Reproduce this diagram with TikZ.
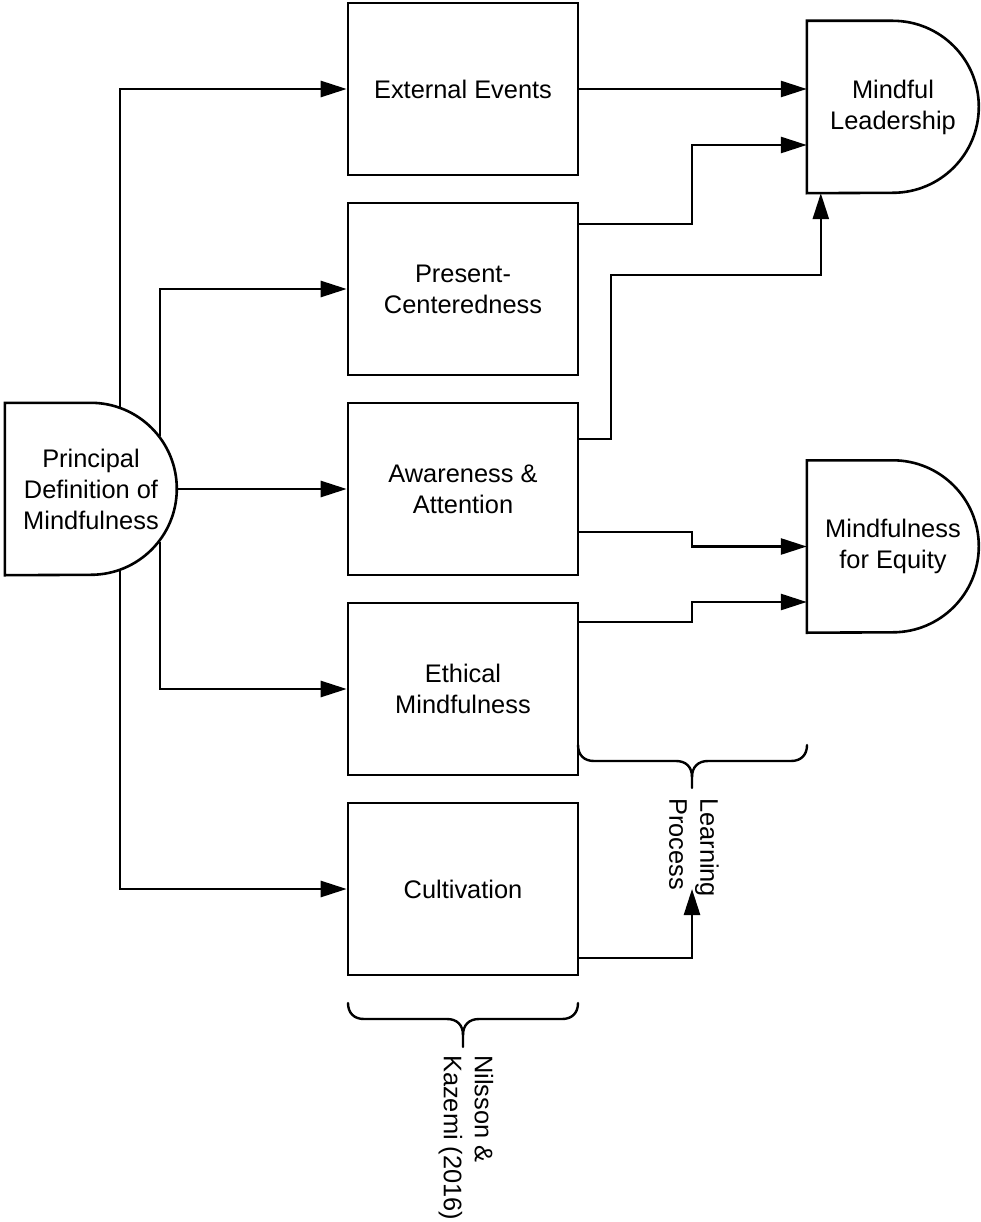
\documentclass[tikz,border=0pt]{standalone}
\usepackage{fontspec}
\setmainfont{Liberation Sans}
\usetikzlibrary{arrows.meta}
\begin{document}
\begin{tikzpicture}[x=1pt,y=-1pt,
  lbl/.style={font=\fontsize{25.4}{31}\selectfont, align=center},
  box/.style={lbl, draw, line width=2.6pt, minimum width=230pt, minimum height=172pt, inner sep=0pt},
  dnode/.style={lbl, minimum width=172pt, minimum height=172pt, inner sep=0pt},
  conn/.style={line width=2.6pt},
  arr/.style={conn, -{Triangle[length=26pt,width=16pt]}},
  brace/.style={line width=2.4pt, line cap=round}
]
\useasboundingbox (0,0) rectangle (980,1222);

% boxes
\node[box] (ee) at (463,89) {External Events};
\node[box] (pc) at (463,289) {Present-\\Centeredness};
\node[box] (aa) at (463,489) {Awareness \&\\Attention};
\node[box] (em) at (463,689) {Ethical\\Mindfulness};
\node[box] (cu) at (463,889) {Cultivation};

% D-shaped nodes
\node[dnode] (pdm) at (91,489) {Principal\\Definition of\\Mindfulness};
\draw[conn] (pdm.north west) -- ++(86,0) arc[start angle=90,end angle=-90,radius=86pt] -- (pdm.south west) -- cycle;
\node[dnode] (ml) at (893,107) {Mindful\\Leadership};
\draw[conn] (ml.north west) -- ++(86,0) arc[start angle=90,end angle=-90,radius=86pt] -- (ml.south west) -- cycle;
\node[dnode] (mfe) at (893,546.5) {Mindfulness\\for Equity};
\draw[conn] (mfe.north west) -- ++(86,0) arc[start angle=90,end angle=-90,radius=86pt] -- (mfe.south west) -- cycle;

% start points on the arc of pdm
\coordinate (s1) at (120,408);
\coordinate (s2) at (160,436);
\coordinate (s4) at (160,542);
\coordinate (s5) at (120,570);

% connectors from principal definition
\draw[arr] (s1) |- (ee.west);
\draw[arr] (s2) |- (pc.west);
\draw[arr] (pdm.east) -- (aa.west);
\draw[arr] (s4) |- (em.west);
\draw[arr] (s5) |- (cu.west);

% to Mindful Leadership
\draw[arr] (ee.east) -- (ee.east -| ml.west);
\draw[arr] ([yshift=65pt]pc.east) -| (692,145) -- ([yshift=-38pt]ml.west);
\draw[arr] ([yshift=50pt]aa.east) -| (611,275) -| ([xshift=14pt]ml.south west);

% to Mindfulness for Equity
\draw[arr] ([yshift=-43pt]aa.east) -| (692,546.5) -- (mfe.west);
\draw[arr] ([yshift=67pt]em.east) -| (692,602) -- ([yshift=-55.5pt]mfe.west);

% braces
\draw[brace] (578,745) .. controls (578,755) and (584,761) .. (594,761) -- (676,761)
  .. controls (686,761) and (692,767) .. (692,777) -- (692,788);
\draw[brace] (807,745) .. controls (807,755) and (801,761) .. (791,761) -- (708,761)
  .. controls (698,761) and (692,767) .. (692,777);
\draw[brace] (348,1003) .. controls (348,1013) and (354,1019) .. (364,1019) -- (447,1019)
  .. controls (457,1019) and (463,1025) .. (463,1035) -- (463,1047);
\draw[brace] (578,1003) .. controls (578,1013) and (572,1019) .. (562,1019) -- (479,1019)
  .. controls (469,1019) and (463,1025) .. (463,1035);

% brace labels
\node[lbl, align=left, rotate=-90, anchor=west, inner sep=0pt] (lp) at (694,798) {Learning\\Process};
\node[lbl, align=left, rotate=-90, anchor=west, inner sep=0pt] (nk) at (466,1055) {Nilsson \&\\Kazemi (2016)};

% Cultivation to Learning Process
\coordinate (lpin) at (692,889);
\draw[arr] ([yshift=-69pt]cu.east) -| (lpin);
\end{tikzpicture}
\end{document}
